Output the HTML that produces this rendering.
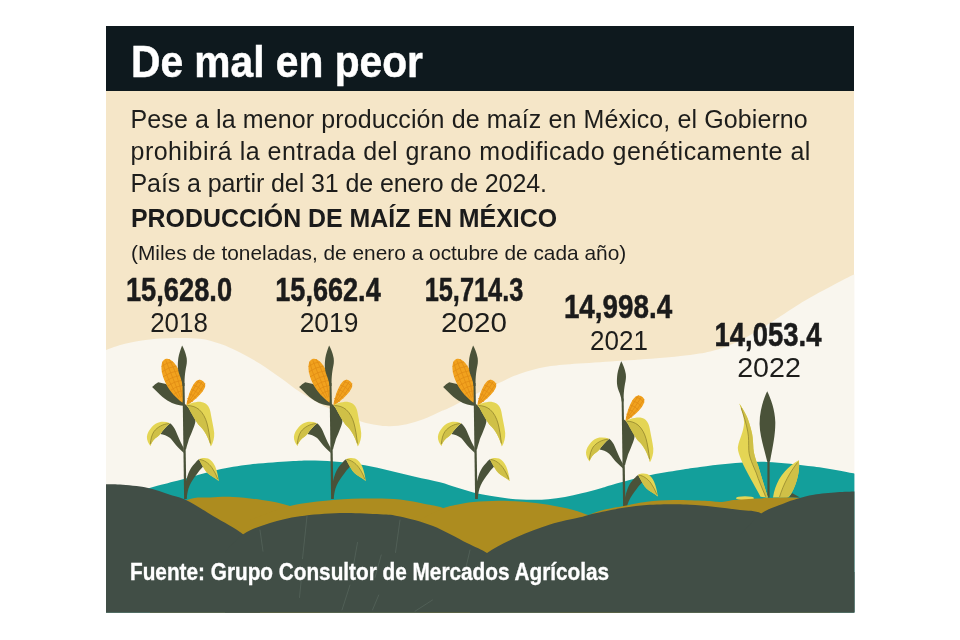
<!DOCTYPE html>
<html lang="es"><head><meta charset="utf-8"><title>De mal en peor</title>
<style>
html,body{margin:0;padding:0;background:#fff;}
body{width:960px;height:640px;position:relative;overflow:hidden;font-family:"Liberation Sans",sans-serif;color:#1b1b1b;}
#panel{position:absolute;left:106px;top:26px;width:748.4px;height:586.5px;background:#f5e6c8;overflow:hidden;}
#hdr{position:absolute;left:0;top:0;width:100%;height:65px;background:#0e191e;}
svg#art{position:absolute;left:0;top:0;width:960px;height:640px;}
.t{position:absolute;white-space:nowrap;line-height:1;margin:0;}
.j{text-align:justify;text-align-last:justify;white-space:normal;}
h1.t{color:#fff;-webkit-text-stroke:0.5px #fff;font-weight:bold;font-size:45px;left:131px;top:38.8px;transform-origin:0 0;transform:scaleX(0.905);}
.p{font-size:25px;left:130.5px;color:#1d1d1b;}
.sub{font-weight:bold;font-size:25px;left:130.5px;top:206.3px;color:#1b1b1b;transform-origin:0 0;transform:scaleX(0.996);}
.note{font-size:20.6px;left:130.5px;top:243.4px;transform-origin:0 0;transform:scaleX(1.013);}
.num{font-weight:bold;font-size:32.4px;text-align:center;transform:translateX(-50%) scaleX(0.832);color:#1b1b1b;-webkit-text-stroke:0.5px #1b1b1b;}
.yr{font-size:26.8px;text-align:center;transform:translateX(-50%) scaleX(0.93);color:#1d1d1b;}
.src{color:#fff;-webkit-text-stroke:0.35px #fff;font-weight:bold;font-size:24px;left:129.8px;top:560.2px;transform-origin:0 0;transform:scaleX(0.865);}
</style></head><body>
<div id="panel"><div id="hdr"></div></div>
<svg id="art" viewBox="0 0 960 640">
<defs><clipPath id="cp"><rect x="106" y="91" width="748.4" height="521.5"/></clipPath></defs>
<g clip-path="url(#cp)">
<path d="M106.0 350.0 C109.2 349.0 117.7 345.5 125.0 343.8 C132.3 342.0 141.7 340.5 150.0 339.5 C158.3 338.5 166.7 338.1 175.0 338.0 C183.3 337.9 192.5 337.8 200.0 338.8 C207.5 339.7 213.3 341.5 220.0 343.8 C226.7 346.0 233.3 349.2 240.0 352.5 C246.7 355.8 253.3 359.6 260.0 363.8 C266.7 367.9 273.3 372.8 280.0 377.5 C286.7 382.2 292.8 387.3 300.0 392.0 C307.2 396.7 316.3 401.9 323.0 405.5 C329.7 409.1 333.6 410.6 340.0 413.3 C346.4 416.0 355.6 419.8 361.7 421.7 C367.8 423.6 372.0 424.2 376.7 425.0 C381.4 425.8 385.0 426.3 390.0 426.2 C395.0 426.1 401.1 425.4 406.7 424.2 C412.2 423.0 417.8 421.3 423.3 419.2 C428.9 417.1 435.6 413.6 440.0 411.7 C444.4 409.8 445.0 409.9 450.0 407.5 C455.0 405.1 461.7 401.2 470.0 397.0 C478.3 392.8 491.7 386.4 500.0 382.5 C508.3 378.6 512.5 376.3 520.0 373.8 C527.5 371.2 536.7 368.6 545.0 367.0 C553.3 365.4 559.0 365.1 570.0 364.2 C581.0 363.3 596.5 362.5 611.0 361.5 C625.5 360.5 643.5 359.4 656.7 358.3 C669.9 357.2 680.6 356.2 690.0 355.0 C699.4 353.8 705.5 352.8 713.0 350.8 C720.5 348.8 728.5 345.8 735.0 343.0 C741.5 340.2 746.2 337.3 752.0 334.0 C757.8 330.7 764.9 326.2 770.0 323.0 C775.1 319.8 776.5 318.8 782.5 315.0 C788.5 311.2 796.2 305.7 806.0 300.0 C815.8 294.3 832.8 285.3 841.0 281.0 C849.2 276.7 852.7 275.2 855.0 274.0 L855.0 613.0 L106.0 613.0 Z" fill="#f9f6ee"/>
<path d="M106.0 500.0 C113.8 497.8 140.5 490.4 153.0 487.0 C165.5 483.6 170.3 482.6 181.0 479.8 C191.7 477.0 205.5 472.6 217.0 470.0 C228.5 467.4 237.8 465.9 250.0 464.5 C262.2 463.1 279.2 461.9 290.0 461.3 C300.8 460.7 306.7 460.5 315.0 460.6 C323.3 460.7 331.7 461.2 340.0 462.0 C348.3 462.8 356.7 463.8 365.0 465.3 C373.3 466.8 381.7 468.9 390.0 470.8 C398.3 472.7 406.7 474.8 415.0 476.7 C423.3 478.6 433.1 480.5 440.0 482.3 C446.9 484.1 451.1 485.8 456.7 487.5 C462.2 489.2 467.8 491.1 473.3 492.5 C478.9 493.9 483.9 494.8 490.0 495.8 C496.1 496.8 503.1 498.1 510.0 498.7 C517.0 499.3 525.3 499.6 531.7 499.7 C538.1 499.8 542.8 499.6 548.3 499.2 C553.8 498.8 559.4 498.0 565.0 497.0 C570.6 496.0 575.9 494.7 581.7 493.3 C587.5 491.9 594.7 490.0 600.0 488.5 C605.3 487.0 605.5 486.6 613.3 484.5 C621.1 482.4 635.6 478.2 646.7 475.8 C657.8 473.4 671.1 471.5 680.0 470.0 C688.9 468.5 692.0 468.1 700.0 467.0 C708.0 465.9 716.8 464.6 728.0 463.7 C739.2 462.8 752.7 461.4 767.0 461.9 C781.3 462.4 799.1 464.6 813.8 466.6 C828.4 468.6 848.1 472.5 855.0 473.7 L855.0 613.0 L106.0 613.0 Z" fill="#139f9b"/>
<g transform="translate(0 0)">
<path d="M152.1 387.1 C154 385 156.3 383.2 158.2 382.2 L166 384 L183 397 L183.4 405.7 C181.5 405.7 180 405.4 178.6 405 C175.5 404.2 172.5 403.2 170.1 401.9 C166.3 399.8 163.2 397.5 160.3 394.9 C157.2 392.3 154.6 389.6 152.1 387.1 Z" fill="#4a5239"/>
<g transform="translate(182.6 402.8) rotate(-21.6)"><path d="M0 0 C-4.79 -7.52 -8.70 -17.86 -8.70 -28.20 C-8.70 -39.48 -4.79 -47.00 0 -47.00 C4.79 -47.00 8.70 -39.48 8.70 -28.20 C8.70 -17.86 4.79 -7.52 0 0 Z" fill="#f1a21e"/><path d="M-1.57 -5.64 Q-6.26 -25.85 -3.52 -45.59 M0.00 -5.64 Q0.00 -25.85 0.00 -45.59 M1.57 -5.64 Q6.26 -25.85 3.52 -45.59 M-5.41 -10.95 Q0 -12.95 5.41 -10.95 M-6.50 -16.04 Q0 -18.04 6.50 -16.04 M-7.51 -21.13 Q0 -23.13 7.51 -21.13 M-8.48 -26.22 Q0 -28.22 8.48 -26.22 M-8.60 -31.32 Q0 -33.32 8.60 -31.32 M-7.87 -36.41 Q0 -38.41 7.87 -36.41 M-6.16 -41.50 Q0 -43.50 6.16 -41.50" stroke="#e18d14" stroke-width="0.75" fill="none"/></g>
<g transform="translate(186.3 405.8) rotate(33.4)"><path d="M0 0 C-2.85 -5.96 -5.70 -14.90 -5.70 -22.65 C-5.70 -27.71 -3.53 -29.80 0 -29.80 C3.53 -29.80 5.70 -27.71 5.70 -22.65 C5.70 -14.90 2.85 -5.96 0 0 Z" fill="#f1a21e"/><path d="M-1.03 -3.58 Q-4.10 -16.39 -3.33 -28.91 M0.00 -3.58 Q0.00 -16.39 0.00 -28.91 M1.03 -3.58 Q4.10 -16.39 3.33 -28.91 M-3.18 -6.65 Q0 -8.65 3.18 -6.65 M-4.05 -11.49 Q0 -13.49 4.05 -11.49 M-4.84 -16.33 Q0 -18.33 4.84 -16.33 M-5.60 -21.18 Q0 -23.18 5.60 -21.18 M-4.81 -26.02 Q0 -28.02 4.81 -26.02" stroke="#e18d14" stroke-width="0.75" fill="none"/></g>
<path d="M182.5 383 L184.5 383 L186.5 499 L184.1 499 Z" fill="#4a5239"/>
<path d="M182.1 345.6 C183.6 348 185.8 353 186.7 358.3 C187.2 362 186.6 365 185.9 368.1 C185.2 372 184.8 376 184.6 379.4 L184.5 386 L182.6 386 C182.2 383 181.5 380.5 180.7 378 C179.3 374.5 178.2 371.5 177.9 368.1 C177.7 364.5 177.9 361.5 178.3 358.3 C179 354 180.6 349.5 182.1 345.6 Z" fill="#4a5239"/>
<path d="M184.3 403.5 C187 405.5 189 408 190.5 410.5 C193 414 195 417 195.4 419.5 C195.8 423 193.5 428 191.5 433 C190 436.5 188.9 439 188.4 440.9 C187.5 444 186.6 446.5 186 449.5 L184.6 449.5 Z" fill="#4a5239"/>
<path d="M186.7 405.4 C188 404.3 189.5 403.7 191.2 403.3 C194.5 402.3 198 401.7 201.1 401.9 C204 402.2 206.5 403.8 208.1 406.1 C209.8 408.5 210.5 411.5 210.9 414.5 C211.8 420 213.6 427 214.2 433 C214.5 438 213 443 210.9 446.6 C209.5 441 207 435.5 204 431 C201.8 427.7 199.8 425.8 198.3 424.4 C194 418.5 191 412.5 188.4 407.5 Z" fill="#e4d554"/>
<path d="M186.7 405.4 C191 405.5 195 406.5 198 408.5 C202 411.5 205 416.5 206.7 422 C208.2 427 209.5 433 210 438 C210.4 441 210.7 444 210.9 446.6 C209.5 441 207 435.5 204 431 C201.8 427.7 199.8 425.8 198.3 424.4 C194 418.5 191 412.5 188.4 407.5 Z" fill="#cfc047"/>
<path d="M187.5 405.5 C192 405.6 196 407 199 409.5 C203 413 205.5 418 206.9 423 C208.3 428 209.6 436 210.4 443.5" stroke="#8a7d2a" stroke-width="0.7" fill="none"/>
<path d="M170.1 423.2 C172.5 425 174.5 428 175.8 431.1 C177.5 435 179 439 180.7 442.3 C181.8 444.5 182.8 446.5 183.7 448 L183.9 453 C182 451.3 180.4 449.8 178.6 448 C175 444.5 172.5 440.5 170.1 438.1 C167 435.5 163.5 434.5 160.3 433.9 C163 430 166.5 426 170.1 423.2 Z" fill="#4a5239"/>
<path d="M170.1 423.2 C167 422 163.5 421.6 160.3 422 C157 422.5 154 424.5 151.8 426.9 C149 430 147.2 433.5 146.9 436.7 C146.7 440 148.5 443.5 150.4 445.9 C151.5 442 154 439 157.5 436.7 C158.5 435.8 159.5 434.8 160.3 433.9 C163 430 166.5 426 170.1 423.2 Z" fill="#e4d554"/>
<path d="M169 423.6 C163 424 157.5 427 154 431.5 C151.5 435 150.5 440 150.4 445.9 C151.5 442 154 439 157.5 436.7 C158.5 435.8 159.5 434.8 160.3 433.9 C163 430 166.5 426 170.1 423.2 Z" fill="#cfc047"/>
<path d="M169 423.6 C163 424 157.5 427 154 431.5 C151.8 434.8 150.7 439 150.4 444" stroke="#8a7d2a" stroke-width="0.7" fill="none"/>
<path d="M199 459.3 C197.5 460.2 196.5 461.5 195.4 462.7 C192 466 190 469.5 188.4 473.3 C186.5 478 185.5 483.5 184.9 488.8 L185.2 499 L186.6 499 C186.9 496.5 187.5 492 188.4 488.8 C190 484 192.5 480 195.4 476.1 C198 472.5 200.5 469 203.4 466.3 Z" fill="#4a5239"/>
<path d="M199 459.2 C201.5 457.8 205 457.6 208.1 458.5 C211 459.6 213.5 462.5 215.1 466.3 C217 471 218.2 476 218.7 481 C216 478.5 212.5 476.5 209.5 474.7 C206.5 472.5 204.5 469.5 202.8 466.5 C201.4 464 200 461.5 199 459.2 Z" fill="#e4d554"/>
<path d="M199.5 459.4 C204 460 208.5 463 211.8 467.5 C214.5 471.5 216.8 476 218.7 481 C216 478.5 212.5 476.5 209.5 474.7 C206.5 472.5 204.5 469.5 202.8 466.5 C201.4 464 200 461.5 199 459.2 Z" fill="#cfc047"/>
<path d="M199.5 459.4 C204 460 208.5 463 211.8 467.5 C214.3 471 216.3 475 217.8 479" stroke="#8a7d2a" stroke-width="0.7" fill="none"/>
</g>
<g transform="translate(147.0 0)">
<path d="M152.1 387.1 C154 385 156.3 383.2 158.2 382.2 L166 384 L183 397 L183.4 405.7 C181.5 405.7 180 405.4 178.6 405 C175.5 404.2 172.5 403.2 170.1 401.9 C166.3 399.8 163.2 397.5 160.3 394.9 C157.2 392.3 154.6 389.6 152.1 387.1 Z" fill="#4a5239"/>
<g transform="translate(182.6 402.8) rotate(-21.6)"><path d="M0 0 C-4.79 -7.52 -8.70 -17.86 -8.70 -28.20 C-8.70 -39.48 -4.79 -47.00 0 -47.00 C4.79 -47.00 8.70 -39.48 8.70 -28.20 C8.70 -17.86 4.79 -7.52 0 0 Z" fill="#f1a21e"/><path d="M-1.57 -5.64 Q-6.26 -25.85 -3.52 -45.59 M0.00 -5.64 Q0.00 -25.85 0.00 -45.59 M1.57 -5.64 Q6.26 -25.85 3.52 -45.59 M-5.41 -10.95 Q0 -12.95 5.41 -10.95 M-6.50 -16.04 Q0 -18.04 6.50 -16.04 M-7.51 -21.13 Q0 -23.13 7.51 -21.13 M-8.48 -26.22 Q0 -28.22 8.48 -26.22 M-8.60 -31.32 Q0 -33.32 8.60 -31.32 M-7.87 -36.41 Q0 -38.41 7.87 -36.41 M-6.16 -41.50 Q0 -43.50 6.16 -41.50" stroke="#e18d14" stroke-width="0.75" fill="none"/></g>
<g transform="translate(186.3 405.8) rotate(33.4)"><path d="M0 0 C-2.85 -5.96 -5.70 -14.90 -5.70 -22.65 C-5.70 -27.71 -3.53 -29.80 0 -29.80 C3.53 -29.80 5.70 -27.71 5.70 -22.65 C5.70 -14.90 2.85 -5.96 0 0 Z" fill="#f1a21e"/><path d="M-1.03 -3.58 Q-4.10 -16.39 -3.33 -28.91 M0.00 -3.58 Q0.00 -16.39 0.00 -28.91 M1.03 -3.58 Q4.10 -16.39 3.33 -28.91 M-3.18 -6.65 Q0 -8.65 3.18 -6.65 M-4.05 -11.49 Q0 -13.49 4.05 -11.49 M-4.84 -16.33 Q0 -18.33 4.84 -16.33 M-5.60 -21.18 Q0 -23.18 5.60 -21.18 M-4.81 -26.02 Q0 -28.02 4.81 -26.02" stroke="#e18d14" stroke-width="0.75" fill="none"/></g>
<path d="M182.5 383 L184.5 383 L186.5 499 L184.1 499 Z" fill="#4a5239"/>
<path d="M182.1 345.6 C183.6 348 185.8 353 186.7 358.3 C187.2 362 186.6 365 185.9 368.1 C185.2 372 184.8 376 184.6 379.4 L184.5 386 L182.6 386 C182.2 383 181.5 380.5 180.7 378 C179.3 374.5 178.2 371.5 177.9 368.1 C177.7 364.5 177.9 361.5 178.3 358.3 C179 354 180.6 349.5 182.1 345.6 Z" fill="#4a5239"/>
<path d="M184.3 403.5 C187 405.5 189 408 190.5 410.5 C193 414 195 417 195.4 419.5 C195.8 423 193.5 428 191.5 433 C190 436.5 188.9 439 188.4 440.9 C187.5 444 186.6 446.5 186 449.5 L184.6 449.5 Z" fill="#4a5239"/>
<path d="M186.7 405.4 C188 404.3 189.5 403.7 191.2 403.3 C194.5 402.3 198 401.7 201.1 401.9 C204 402.2 206.5 403.8 208.1 406.1 C209.8 408.5 210.5 411.5 210.9 414.5 C211.8 420 213.6 427 214.2 433 C214.5 438 213 443 210.9 446.6 C209.5 441 207 435.5 204 431 C201.8 427.7 199.8 425.8 198.3 424.4 C194 418.5 191 412.5 188.4 407.5 Z" fill="#e4d554"/>
<path d="M186.7 405.4 C191 405.5 195 406.5 198 408.5 C202 411.5 205 416.5 206.7 422 C208.2 427 209.5 433 210 438 C210.4 441 210.7 444 210.9 446.6 C209.5 441 207 435.5 204 431 C201.8 427.7 199.8 425.8 198.3 424.4 C194 418.5 191 412.5 188.4 407.5 Z" fill="#cfc047"/>
<path d="M187.5 405.5 C192 405.6 196 407 199 409.5 C203 413 205.5 418 206.9 423 C208.3 428 209.6 436 210.4 443.5" stroke="#8a7d2a" stroke-width="0.7" fill="none"/>
<path d="M170.1 423.2 C172.5 425 174.5 428 175.8 431.1 C177.5 435 179 439 180.7 442.3 C181.8 444.5 182.8 446.5 183.7 448 L183.9 453 C182 451.3 180.4 449.8 178.6 448 C175 444.5 172.5 440.5 170.1 438.1 C167 435.5 163.5 434.5 160.3 433.9 C163 430 166.5 426 170.1 423.2 Z" fill="#4a5239"/>
<path d="M170.1 423.2 C167 422 163.5 421.6 160.3 422 C157 422.5 154 424.5 151.8 426.9 C149 430 147.2 433.5 146.9 436.7 C146.7 440 148.5 443.5 150.4 445.9 C151.5 442 154 439 157.5 436.7 C158.5 435.8 159.5 434.8 160.3 433.9 C163 430 166.5 426 170.1 423.2 Z" fill="#e4d554"/>
<path d="M169 423.6 C163 424 157.5 427 154 431.5 C151.5 435 150.5 440 150.4 445.9 C151.5 442 154 439 157.5 436.7 C158.5 435.8 159.5 434.8 160.3 433.9 C163 430 166.5 426 170.1 423.2 Z" fill="#cfc047"/>
<path d="M169 423.6 C163 424 157.5 427 154 431.5 C151.8 434.8 150.7 439 150.4 444" stroke="#8a7d2a" stroke-width="0.7" fill="none"/>
<path d="M199 459.3 C197.5 460.2 196.5 461.5 195.4 462.7 C192 466 190 469.5 188.4 473.3 C186.5 478 185.5 483.5 184.9 488.8 L185.2 499 L186.6 499 C186.9 496.5 187.5 492 188.4 488.8 C190 484 192.5 480 195.4 476.1 C198 472.5 200.5 469 203.4 466.3 Z" fill="#4a5239"/>
<path d="M199 459.2 C201.5 457.8 205 457.6 208.1 458.5 C211 459.6 213.5 462.5 215.1 466.3 C217 471 218.2 476 218.7 481 C216 478.5 212.5 476.5 209.5 474.7 C206.5 472.5 204.5 469.5 202.8 466.5 C201.4 464 200 461.5 199 459.2 Z" fill="#e4d554"/>
<path d="M199.5 459.4 C204 460 208.5 463 211.8 467.5 C214.5 471.5 216.8 476 218.7 481 C216 478.5 212.5 476.5 209.5 474.7 C206.5 472.5 204.5 469.5 202.8 466.5 C201.4 464 200 461.5 199 459.2 Z" fill="#cfc047"/>
<path d="M199.5 459.4 C204 460 208.5 463 211.8 467.5 C214.3 471 216.3 475 217.8 479" stroke="#8a7d2a" stroke-width="0.7" fill="none"/>
</g>
<g transform="translate(291.0 0)">
<path d="M152.1 387.1 C154 385 156.3 383.2 158.2 382.2 L166 384 L183 397 L183.4 405.7 C181.5 405.7 180 405.4 178.6 405 C175.5 404.2 172.5 403.2 170.1 401.9 C166.3 399.8 163.2 397.5 160.3 394.9 C157.2 392.3 154.6 389.6 152.1 387.1 Z" fill="#4a5239"/>
<g transform="translate(182.6 402.8) rotate(-21.6)"><path d="M0 0 C-4.79 -7.52 -8.70 -17.86 -8.70 -28.20 C-8.70 -39.48 -4.79 -47.00 0 -47.00 C4.79 -47.00 8.70 -39.48 8.70 -28.20 C8.70 -17.86 4.79 -7.52 0 0 Z" fill="#f1a21e"/><path d="M-1.57 -5.64 Q-6.26 -25.85 -3.52 -45.59 M0.00 -5.64 Q0.00 -25.85 0.00 -45.59 M1.57 -5.64 Q6.26 -25.85 3.52 -45.59 M-5.41 -10.95 Q0 -12.95 5.41 -10.95 M-6.50 -16.04 Q0 -18.04 6.50 -16.04 M-7.51 -21.13 Q0 -23.13 7.51 -21.13 M-8.48 -26.22 Q0 -28.22 8.48 -26.22 M-8.60 -31.32 Q0 -33.32 8.60 -31.32 M-7.87 -36.41 Q0 -38.41 7.87 -36.41 M-6.16 -41.50 Q0 -43.50 6.16 -41.50" stroke="#e18d14" stroke-width="0.75" fill="none"/></g>
<g transform="translate(186.3 405.8) rotate(33.4)"><path d="M0 0 C-2.85 -5.96 -5.70 -14.90 -5.70 -22.65 C-5.70 -27.71 -3.53 -29.80 0 -29.80 C3.53 -29.80 5.70 -27.71 5.70 -22.65 C5.70 -14.90 2.85 -5.96 0 0 Z" fill="#f1a21e"/><path d="M-1.03 -3.58 Q-4.10 -16.39 -3.33 -28.91 M0.00 -3.58 Q0.00 -16.39 0.00 -28.91 M1.03 -3.58 Q4.10 -16.39 3.33 -28.91 M-3.18 -6.65 Q0 -8.65 3.18 -6.65 M-4.05 -11.49 Q0 -13.49 4.05 -11.49 M-4.84 -16.33 Q0 -18.33 4.84 -16.33 M-5.60 -21.18 Q0 -23.18 5.60 -21.18 M-4.81 -26.02 Q0 -28.02 4.81 -26.02" stroke="#e18d14" stroke-width="0.75" fill="none"/></g>
<path d="M182.5 383 L184.5 383 L186.5 499 L184.1 499 Z" fill="#4a5239"/>
<path d="M182.1 345.6 C183.6 348 185.8 353 186.7 358.3 C187.2 362 186.6 365 185.9 368.1 C185.2 372 184.8 376 184.6 379.4 L184.5 386 L182.6 386 C182.2 383 181.5 380.5 180.7 378 C179.3 374.5 178.2 371.5 177.9 368.1 C177.7 364.5 177.9 361.5 178.3 358.3 C179 354 180.6 349.5 182.1 345.6 Z" fill="#4a5239"/>
<path d="M184.3 403.5 C187 405.5 189 408 190.5 410.5 C193 414 195 417 195.4 419.5 C195.8 423 193.5 428 191.5 433 C190 436.5 188.9 439 188.4 440.9 C187.5 444 186.6 446.5 186 449.5 L184.6 449.5 Z" fill="#4a5239"/>
<path d="M186.7 405.4 C188 404.3 189.5 403.7 191.2 403.3 C194.5 402.3 198 401.7 201.1 401.9 C204 402.2 206.5 403.8 208.1 406.1 C209.8 408.5 210.5 411.5 210.9 414.5 C211.8 420 213.6 427 214.2 433 C214.5 438 213 443 210.9 446.6 C209.5 441 207 435.5 204 431 C201.8 427.7 199.8 425.8 198.3 424.4 C194 418.5 191 412.5 188.4 407.5 Z" fill="#e4d554"/>
<path d="M186.7 405.4 C191 405.5 195 406.5 198 408.5 C202 411.5 205 416.5 206.7 422 C208.2 427 209.5 433 210 438 C210.4 441 210.7 444 210.9 446.6 C209.5 441 207 435.5 204 431 C201.8 427.7 199.8 425.8 198.3 424.4 C194 418.5 191 412.5 188.4 407.5 Z" fill="#cfc047"/>
<path d="M187.5 405.5 C192 405.6 196 407 199 409.5 C203 413 205.5 418 206.9 423 C208.3 428 209.6 436 210.4 443.5" stroke="#8a7d2a" stroke-width="0.7" fill="none"/>
<path d="M170.1 423.2 C172.5 425 174.5 428 175.8 431.1 C177.5 435 179 439 180.7 442.3 C181.8 444.5 182.8 446.5 183.7 448 L183.9 453 C182 451.3 180.4 449.8 178.6 448 C175 444.5 172.5 440.5 170.1 438.1 C167 435.5 163.5 434.5 160.3 433.9 C163 430 166.5 426 170.1 423.2 Z" fill="#4a5239"/>
<path d="M170.1 423.2 C167 422 163.5 421.6 160.3 422 C157 422.5 154 424.5 151.8 426.9 C149 430 147.2 433.5 146.9 436.7 C146.7 440 148.5 443.5 150.4 445.9 C151.5 442 154 439 157.5 436.7 C158.5 435.8 159.5 434.8 160.3 433.9 C163 430 166.5 426 170.1 423.2 Z" fill="#e4d554"/>
<path d="M169 423.6 C163 424 157.5 427 154 431.5 C151.5 435 150.5 440 150.4 445.9 C151.5 442 154 439 157.5 436.7 C158.5 435.8 159.5 434.8 160.3 433.9 C163 430 166.5 426 170.1 423.2 Z" fill="#cfc047"/>
<path d="M169 423.6 C163 424 157.5 427 154 431.5 C151.8 434.8 150.7 439 150.4 444" stroke="#8a7d2a" stroke-width="0.7" fill="none"/>
<path d="M199 459.3 C197.5 460.2 196.5 461.5 195.4 462.7 C192 466 190 469.5 188.4 473.3 C186.5 478 185.5 483.5 184.9 488.8 L185.2 499 L186.6 499 C186.9 496.5 187.5 492 188.4 488.8 C190 484 192.5 480 195.4 476.1 C198 472.5 200.5 469 203.4 466.3 Z" fill="#4a5239"/>
<path d="M199 459.2 C201.5 457.8 205 457.6 208.1 458.5 C211 459.6 213.5 462.5 215.1 466.3 C217 471 218.2 476 218.7 481 C216 478.5 212.5 476.5 209.5 474.7 C206.5 472.5 204.5 469.5 202.8 466.5 C201.4 464 200 461.5 199 459.2 Z" fill="#e4d554"/>
<path d="M199.5 459.4 C204 460 208.5 463 211.8 467.5 C214.5 471.5 216.8 476 218.7 481 C216 478.5 212.5 476.5 209.5 474.7 C206.5 472.5 204.5 469.5 202.8 466.5 C201.4 464 200 461.5 199 459.2 Z" fill="#cfc047"/>
<path d="M199.5 459.4 C204 460 208.5 463 211.8 467.5 C214.3 471 216.3 475 217.8 479" stroke="#8a7d2a" stroke-width="0.7" fill="none"/>
</g>
<g transform="translate(439.1 15.6)">
<g transform="translate(186.3 405.8) rotate(33.4)"><path d="M0 0 C-2.85 -5.96 -5.70 -14.90 -5.70 -22.65 C-5.70 -27.71 -3.53 -29.80 0 -29.80 C3.53 -29.80 5.70 -27.71 5.70 -22.65 C5.70 -14.90 2.85 -5.96 0 0 Z" fill="#f1a21e"/><path d="M-1.03 -3.58 Q-4.10 -16.39 -3.33 -28.91 M0.00 -3.58 Q0.00 -16.39 0.00 -28.91 M1.03 -3.58 Q4.10 -16.39 3.33 -28.91 M-3.18 -6.65 Q0 -8.65 3.18 -6.65 M-4.05 -11.49 Q0 -13.49 4.05 -11.49 M-4.84 -16.33 Q0 -18.33 4.84 -16.33 M-5.60 -21.18 Q0 -23.18 5.60 -21.18 M-4.81 -26.02 Q0 -28.02 4.81 -26.02" stroke="#e18d14" stroke-width="0.75" fill="none"/></g>
<path d="M182.5 383 L184.5 383 L186.5 499 L184.1 499 Z" fill="#4a5239"/>
<path d="M182.1 345.6 C183.6 348 185.8 353 186.7 358.3 C187.2 362 186.6 365 185.9 368.1 C185.2 372 184.8 376 184.6 379.4 L184.5 386 L182.6 386 C182.2 383 181.5 380.5 180.7 378 C179.3 374.5 178.2 371.5 177.9 368.1 C177.7 364.5 177.9 361.5 178.3 358.3 C179 354 180.6 349.5 182.1 345.6 Z" fill="#4a5239"/>
<path d="M184.3 403.5 C187 405.5 189 408 190.5 410.5 C193 414 195 417 195.4 419.5 C195.8 423 193.5 428 191.5 433 C190 436.5 188.9 439 188.4 440.9 C187.5 444 186.6 446.5 186 449.5 L184.6 449.5 Z" fill="#4a5239"/>
<path d="M186.7 405.4 C188 404.3 189.5 403.7 191.2 403.3 C194.5 402.3 198 401.7 201.1 401.9 C204 402.2 206.5 403.8 208.1 406.1 C209.8 408.5 210.5 411.5 210.9 414.5 C211.8 420 213.6 427 214.2 433 C214.5 438 213 443 210.9 446.6 C209.5 441 207 435.5 204 431 C201.8 427.7 199.8 425.8 198.3 424.4 C194 418.5 191 412.5 188.4 407.5 Z" fill="#e4d554"/>
<path d="M186.7 405.4 C191 405.5 195 406.5 198 408.5 C202 411.5 205 416.5 206.7 422 C208.2 427 209.5 433 210 438 C210.4 441 210.7 444 210.9 446.6 C209.5 441 207 435.5 204 431 C201.8 427.7 199.8 425.8 198.3 424.4 C194 418.5 191 412.5 188.4 407.5 Z" fill="#cfc047"/>
<path d="M187.5 405.5 C192 405.6 196 407 199 409.5 C203 413 205.5 418 206.9 423 C208.3 428 209.6 436 210.4 443.5" stroke="#8a7d2a" stroke-width="0.7" fill="none"/>
<path d="M170.1 423.2 C172.5 425 174.5 428 175.8 431.1 C177.5 435 179 439 180.7 442.3 C181.8 444.5 182.8 446.5 183.7 448 L183.9 453 C182 451.3 180.4 449.8 178.6 448 C175 444.5 172.5 440.5 170.1 438.1 C167 435.5 163.5 434.5 160.3 433.9 C163 430 166.5 426 170.1 423.2 Z" fill="#4a5239"/>
<path d="M170.1 423.2 C167 422 163.5 421.6 160.3 422 C157 422.5 154 424.5 151.8 426.9 C149 430 147.2 433.5 146.9 436.7 C146.7 440 148.5 443.5 150.4 445.9 C151.5 442 154 439 157.5 436.7 C158.5 435.8 159.5 434.8 160.3 433.9 C163 430 166.5 426 170.1 423.2 Z" fill="#e4d554"/>
<path d="M169 423.6 C163 424 157.5 427 154 431.5 C151.5 435 150.5 440 150.4 445.9 C151.5 442 154 439 157.5 436.7 C158.5 435.8 159.5 434.8 160.3 433.9 C163 430 166.5 426 170.1 423.2 Z" fill="#cfc047"/>
<path d="M169 423.6 C163 424 157.5 427 154 431.5 C151.8 434.8 150.7 439 150.4 444" stroke="#8a7d2a" stroke-width="0.7" fill="none"/>
<path d="M199 459.3 C197.5 460.2 196.5 461.5 195.4 462.7 C192 466 190 469.5 188.4 473.3 C186.5 478 185.5 483.5 184.9 488.8 L185.2 499 L186.6 499 C186.9 496.5 187.5 492 188.4 488.8 C190 484 192.5 480 195.4 476.1 C198 472.5 200.5 469 203.4 466.3 Z" fill="#4a5239"/>
<path d="M199 459.2 C201.5 457.8 205 457.6 208.1 458.5 C211 459.6 213.5 462.5 215.1 466.3 C217 471 218.2 476 218.7 481 C216 478.5 212.5 476.5 209.5 474.7 C206.5 472.5 204.5 469.5 202.8 466.5 C201.4 464 200 461.5 199 459.2 Z" fill="#e4d554"/>
<path d="M199.5 459.4 C204 460 208.5 463 211.8 467.5 C214.5 471.5 216.8 476 218.7 481 C216 478.5 212.5 476.5 209.5 474.7 C206.5 472.5 204.5 469.5 202.8 466.5 C201.4 464 200 461.5 199 459.2 Z" fill="#cfc047"/>
<path d="M199.5 459.4 C204 460 208.5 463 211.8 467.5 C214.3 471 216.3 475 217.8 479" stroke="#8a7d2a" stroke-width="0.7" fill="none"/>
</g>
<g>
<ellipse cx="745" cy="498.2" rx="9" ry="1.9" fill="#e4d554"/>
<path d="M789 497.5 L792 493 L800 497.5 Z" fill="#4a5239"/>
<path d="M767.4 455 L769.6 455 L769.6 497.5 L767.4 497.5 Z" fill="#4a5239"/>
<path d="M739.3 403.4 C743 409 746 414 747.8 418.8 C750 425 751.3 430 752.1 433.8 C753 439 753.2 444 753.4 448.8 C754 455 756 460.5 758.1 465.6 C761 476 764.5 486 767.8 497.5 L760.5 496.8 C757 490 753.5 484 750.6 478.8 C747 472 743.5 466 741.3 460 C739 454.5 737.5 450.5 737.9 446.9 C738.5 442.5 740.3 439 741.3 435.6 C742.8 431 744 427 744.1 422.5 C744 416 741.5 409.5 739.3 403.4 Z" fill="#e4d554"/>
<path d="M739.3 403.4 C743 409 746 414 747.8 418.8 C750 425 751.3 430 752.1 433.8 C753 439 753.2 444 753.4 448.8 C754 455 756 460.5 758.1 465.6 C761 476 764.5 486 767.8 497.5 L765.5 497.2 C762 488 758.5 480 756.3 473.1 C753 465 749.3 458 748.8 450.6 C748.5 443 749 438 747.8 431.9 C746.5 424 744 417 742.2 411.3 Z" fill="#cfc047"/>
<path d="M741.2 408 C743.5 415 746.5 424 747.8 431.9 C749 438 748.5 443 748.8 450.6 C749.3 458 753 465 756.3 473.1 C758.5 480 762 488 765.8 496.8" stroke="#8a7d2a" stroke-width="0.7" fill="none"/>
<path d="M798.9 460.3 C799.5 466 799 471 798 475.5 C796.5 482.5 794 489 791 494 C790 495.5 788.5 497 787 497.5 L773 497.5 C774 491 776 485 779 479.6 C782.5 473.5 787 468.5 791 465.4 C793.5 463.5 796.5 461.5 798.9 460.3 Z" fill="#e4d554"/>
<path d="M798.9 460.3 C799.5 466 799 471 798 475.5 C796.5 482.5 794 489 791 494 C790 495.5 788.5 497 787 497.5 L779.5 497.5 C783.5 484 790 472 797.5 462.5 Z" fill="#cfc047"/>
<path d="M797.5 462.5 C790 472 783.5 484 779.5 497" stroke="#8a7d2a" stroke-width="0.7" fill="none"/>
<path d="M767.2 391.2 C771 399 775 410 775.3 422 C775.5 434 773 446 770 461.5 L767.2 461.5 C764 448 759.8 436 759.6 424 C759.5 411 763.5 399 767.2 391.2 Z" fill="#4a5239"/>
</g>
<path d="M150.0 520.0 C156.2 516.7 177.0 503.8 187.0 500.0 C197.0 496.2 202.3 498.0 210.0 497.5 C217.7 497.0 224.3 496.6 233.0 497.0 C241.7 497.4 252.5 498.5 262.0 500.0 C271.5 501.5 280.3 502.7 290.0 506.0 C299.7 509.3 315.0 517.7 320.0 520.0 L320.0 613.0 L150.0 613.0 Z" fill="#ad8c1f"/>
<path d="M250.0 520.0 C256.7 517.7 276.2 509.3 290.0 506.0 C303.8 502.7 319.7 501.2 333.0 500.0 C346.3 498.8 358.8 498.6 370.0 498.5 C381.2 498.4 390.8 498.6 400.0 499.5 C409.2 500.4 417.8 502.6 425.0 504.0 C432.2 505.4 435.5 505.3 443.0 508.0 C450.5 510.7 465.5 518.0 470.0 520.0 L470.0 613.0 L250.0 613.0 Z" fill="#ad8c1f"/>
<path d="M420.0 520.0 C423.8 518.0 436.9 510.9 443.0 508.3 C449.1 505.8 451.6 505.8 456.7 504.7 C461.8 503.6 466.4 502.6 473.3 502.0 C480.2 501.4 490.0 500.9 498.3 500.8 C506.6 500.8 515.0 501.1 523.3 501.7 C531.6 502.3 540.0 503.3 548.3 504.7 C556.6 506.1 566.3 508.1 573.3 510.0 C580.2 511.9 582.2 512.8 590.0 515.8 C597.8 518.8 615.0 526.0 620.0 528.0 L620.0 613.0 L420.0 613.0 Z" fill="#ad8c1f"/>
<path d="M560.0 530.0 C565.8 527.1 584.2 516.5 595.0 512.5 C605.8 508.5 616.4 507.6 625.0 505.8 C633.6 504.0 638.7 502.7 646.7 501.7 C654.8 500.7 663.6 500.1 673.3 500.0 C683.0 499.9 696.9 500.5 705.0 500.8 C713.1 501.1 716.8 502.2 722.0 502.0 C727.2 501.8 728.5 500.4 736.0 499.8 C743.5 499.2 756.7 498.4 767.0 498.1 C777.3 497.8 787.5 496.9 798.0 498.0 C808.5 499.1 824.7 503.8 830.0 505.0 L830.0 613.0 L560.0 613.0 Z" fill="#ad8c1f"/>
<rect x="106" y="572" width="749" height="41" fill="#414e46"/>
<path d="M106.0 484.2 C108.3 484.2 113.2 483.9 120.0 484.5 C126.8 485.1 138.7 486.0 147.0 487.7 C155.3 489.4 163.5 492.6 170.0 494.7 C176.5 496.8 179.5 496.9 186.0 500.0 C192.5 503.1 202.5 509.6 209.0 513.4 C215.5 517.2 219.8 519.7 225.0 522.8 C230.2 525.9 234.2 527.8 240.0 532.0 C245.8 536.2 256.7 545.3 260.0 548.0 L260.0 613.0 L106.0 613.0 Z" fill="#414e46"/>
<path d="M225.0 552.0 C228.2 549.0 236.5 538.6 244.0 533.8 C251.5 528.9 260.7 525.9 270.0 523.0 C279.3 520.1 288.3 518.0 300.0 516.3 C311.7 514.6 326.7 513.4 340.0 513.0 C353.3 512.6 370.0 513.6 380.0 514.2 C390.0 514.8 391.2 514.5 400.0 516.5 C408.8 518.5 421.8 521.6 433.0 526.0 C444.2 530.4 458.0 538.5 467.0 543.0 C476.0 547.5 481.5 549.3 487.0 553.0 C492.5 556.7 497.8 563.0 500.0 565.0 L500.0 613.0 L225.0 613.0 Z" fill="#414e46"/>
<path d="M470.0 570.0 C472.8 567.2 479.2 558.5 487.0 553.0 C494.8 547.5 506.5 541.8 517.0 537.0 C527.5 532.2 539.5 527.8 550.0 524.5 C560.5 521.2 572.2 519.2 580.0 517.3 C587.8 515.4 589.2 514.6 596.7 513.0 C604.2 511.4 616.7 508.8 625.0 507.5 C633.3 506.2 638.7 505.6 646.7 505.0 C654.8 504.4 666.1 504.2 673.3 504.2 C680.5 504.1 683.3 504.3 690.0 504.7 C696.7 505.1 705.0 505.8 713.3 506.7 C721.6 507.6 732.0 508.9 740.0 510.0 C748.0 511.1 754.7 510.1 761.4 513.4 C768.1 516.7 776.9 527.2 780.0 530.0 L780.0 613.0 L470.0 613.0 Z" fill="#414e46"/>
<path d="M740.0 535.0 C743.6 531.4 754.3 518.6 761.4 513.4 C768.5 508.2 776.4 506.5 782.5 504.0 C788.6 501.5 792.8 500.2 798.0 498.6 C803.2 497.1 807.2 495.8 813.8 494.7 C820.2 493.6 830.1 492.8 837.0 492.3 C843.9 491.8 852.0 491.6 855.0 491.5 L855.0 613.0 L740.0 613.0 Z" fill="#414e46"/>
<path d="M260 530 L263 551.25 M307 516.25 L302.5 558.75 M357.5 542.5 L353.75 563.75 M400 520 L395.5 552.5 M381.25 555 L375 577.5 M301.25 580 L299.5 597.5 M350 585 L342 610 M378.75 595 L372.5 610 M432.5 600 L415 611.25 M470 550 L466.25 566.25" stroke="#526158" stroke-width="0.9" fill="none" stroke-linecap="round"/>
</g>
</svg>
<h1 class="t">De mal en peor</h1>
<div class="t p" style="top:106.8px;letter-spacing:0.108px">Pese a la menor producción de maíz en México, el Gobierno</div>
<div class="t p" style="top:139.2px;letter-spacing:0.492px">prohibirá la entrada del grano modificado genéticamente al</div>
<div class="t p" style="top:171.1px;letter-spacing:-0.087px">País a partir del 31 de enero de 2024.</div>
<div class="t sub">PRODUCCIÓN DE MAÍZ EN MÉXICO</div>
<div class="t note">(Miles de toneladas, de enero a octubre de cada año)</div>
<div class="t num" style="left:179.3px;top:274.4px;transform:translateX(-50%) scaleX(0.842)">15,628.0</div><div class="t yr" style="left:179.0px;top:310.4px;transform:translateX(-50%) scaleX(0.966)">2018</div>
<div class="t num" style="left:328.2px;top:274.4px;transform:translateX(-50%) scaleX(0.836)">15,662.4</div><div class="t yr" style="left:328.5px;top:310.4px;transform:translateX(-50%) scaleX(0.984)">2019</div>
<div class="t num" style="left:474.0px;top:274.4px;transform:translateX(-50%) scaleX(0.782)">15,714.3</div><div class="t yr" style="left:474.1px;top:310.4px;transform:translateX(-50%) scaleX(1.104)">2020</div>
<div class="t num" style="left:618.0px;top:291.2px;transform:translateX(-50%) scaleX(0.858)">14,998.4</div><div class="t yr" style="left:618.9px;top:327.6px;transform:translateX(-50%) scaleX(0.972)">2021</div>
<div class="t num" style="left:768.0px;top:319.3px;transform:translateX(-50%) scaleX(0.848)">14,053.4</div><div class="t yr" style="left:768.7px;top:355.4px;transform:translateX(-50%) scaleX(1.069)">2022</div>
<div class="t src">Fuente: Grupo Consultor de Mercados Agrícolas</div>
</body></html>
